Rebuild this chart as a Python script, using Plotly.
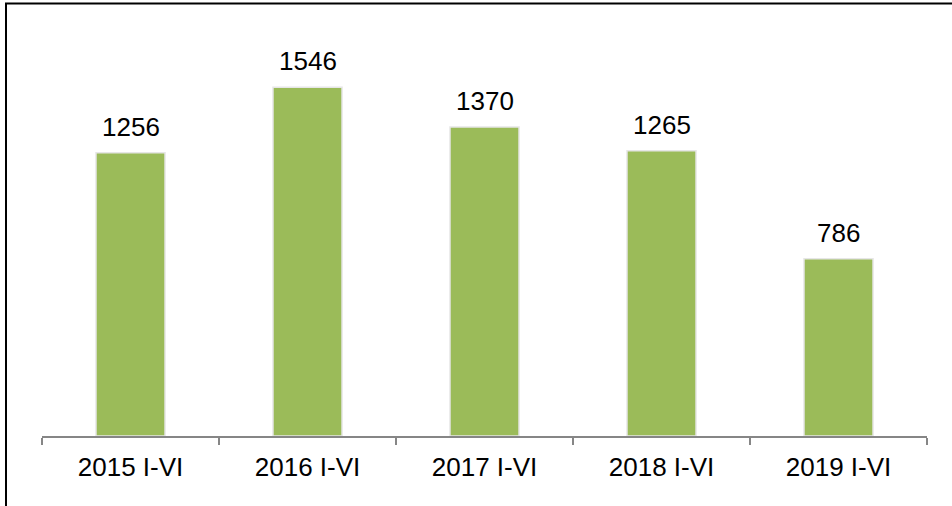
import plotly.graph_objects as go

categories = ["2015 I-VI", "2016 I-VI", "2017 I-VI", "2018 I-VI", "2019 I-VI"]
values = [1256, 1546, 1370, 1265, 786]

W, H = 952, 506
ml, mr, mt, mb = 42, 25, 30, 70
pw = W - ml - mr
ph = H - mt - mb

fig = go.Figure()
fig.add_trace(go.Bar(
    x=categories, y=values,
    marker=dict(color="#9BBB59", line=dict(color="#e6e6e6", width=1.5)),
    width=0.39,
    hoverinfo="x+y",
))

for c, v in zip(categories, values):
    fig.add_annotation(x=c, y=v, text=str(v), showarrow=False,
                       yanchor="bottom", yshift=9,
                       font=dict(family="Liberation Sans, Arial", size=26, color="#000000"))

def px_to_paper_x(px):
    return (px - ml) / pw

def px_to_paper_y(py):
    return 1 - (py - mt) / ph

x0 = px_to_paper_x(6)
y_top = px_to_paper_y(3.5)
y_bot = px_to_paper_y(520)
x_right = px_to_paper_x(960)
fig.add_shape(type="path", xref="paper", yref="paper",
              path=f"M {x0} {y_bot} L {x0} {y_top} L {x_right} {y_top}",
              line=dict(color="#000000", width=2))

fig.update_layout(
    width=W, height=H,
    margin=dict(l=ml, r=mr, t=mt, b=mb),
    plot_bgcolor="white", paper_bgcolor="white",
    showlegend=False,
    font=dict(family="Liberation Sans, Arial", size=26, color="#000000"),
    xaxis=dict(showline=True, linecolor="#868686", linewidth=1.5,
               ticks="outside", tickson="boundaries", ticklen=7,
               tickcolor="#868686", tickwidth=1.5,
               tickfont=dict(size=26, color="#000000"),
               ticklabelstandoff=7, showgrid=False, zeroline=False),
    yaxis=dict(visible=False, range=[0, 1800], showgrid=False, zeroline=False),
)

fig.write_html("out.html",
               config={"displayModeBar": False},
               post_script="document.body.style.margin='0';document.body.style.overflow='hidden';")
